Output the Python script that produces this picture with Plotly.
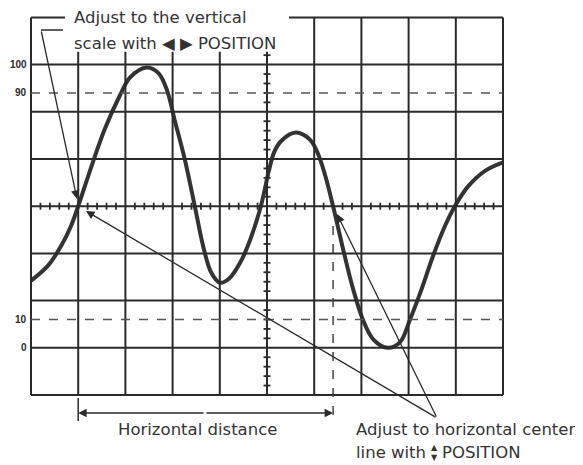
import plotly.graph_objects as go

# Waveform trace, x in graticule divisions, y in percent of the 0..100 scale
wave_x = [0.00, 0.36, 0.64, 0.85, 1.00, 1.31, 1.57, 1.88, 2.10, 2.45,
          2.70, 2.88, 3.05, 3.26, 3.47, 3.66, 3.82, 4.00, 4.20, 4.43, 4.64,
          4.87, 5.04, 5.15, 5.30, 5.61, 5.91, 6.08, 6.23, 6.40, 6.61,
          6.82, 7.03, 7.25, 7.56, 7.82, 8.03, 8.26, 8.52, 8.77, 8.98, 9.26,
          9.62, 10.0]
wave_y = [23.7, 29.0, 36.0, 43.1, 50.0, 65.5, 77.5, 89.0, 95.5, 99.0,
          97.0, 91.0, 80.0, 66.4, 50.0, 35.0, 26.5, 23.0, 24.5, 30.0, 38.0,
          50.0, 62.5, 69.0, 73.0, 76.0, 73.5, 68.5, 61.0, 50.0, 35.0,
          21.0, 10.0, 3.0, 0.0, 2.0, 10.0, 20.0, 32.5, 43.0, 50.0, 57.0,
          62.5, 65.5]

# Percent scale labels on the left
scale_labels = ["100", "90", "10", "0"]
scale_values = [100, 90, 10, 0]

DIV = 100 / 6           # percent per vertical division
PX = 47.2               # pixels per division
W, H = 583, 465
OFF = 8                 # page body margin
LEFT, BOTTOM = 31, 395  # page pixel position of the graticule corner


def pct(ydiv):
    return (ydiv - 1) * DIV


def px_x(p):
    return (p - LEFT) / PX


def px_y(p):
    return pct((BOTTOM - p) / PX)


INK = "#2a2a2a"
TOP_CUT = 7.27  # where the lines under the upper label stop
fig = go.Figure()

shapes = []
# vertical graticule lines
for i in range(11):
    top = TOP_CUT if 1 <= i <= 5 else 8
    shapes.append(dict(type="line", x0=i, x1=i, y0=pct(0), y1=pct(top),
                       line=dict(color=INK, width=2)))
# horizontal graticule lines
for j in range(8):
    shapes.append(dict(type="line", x0=0, x1=10, y0=pct(j), y1=pct(j),
                       line=dict(color=INK, width=2)))
# top border, broken by the upper label
shapes.append(dict(type="line", x0=0, x1=px_x(65), y0=pct(8), y1=pct(8),
                   line=dict(color=INK, width=2)))
shapes.append(dict(type="line", x0=px_x(289), x1=10, y0=pct(8), y1=pct(8),
                   line=dict(color=INK, width=2)))
# second leader line of upper label
shapes.append(dict(type="line", x0=px_x(41), x1=px_x(63), y0=px_y(30), y1=px_y(30),
                   line=dict(color=INK, width=1.5)))
# 10% and 90% dashed lines
for v in [10, 90]:
    shapes.append(dict(type="line", x0=0, x1=10, y0=v, y1=v,
                       line=dict(color="#555555", width=1.5, dash="dash")))
# dashed marker at second crossing
shapes.append(dict(type="line", x0=6.40, x1=6.40, y0=px_y(226), y1=px_y(424),
                   line=dict(color="#444444", width=1.5, dash="dash")))
# left end tick of horizontal distance
shapes.append(dict(type="line", x0=1, x1=1, y0=px_y(398), y1=px_y(421),
                   line=dict(color=INK, width=1.5)))

# minor ticks on the centre lines
tx = [k / 5 for k in range(1, 50) if k % 5]
ty = [pct(k / 5) for k in range(1, 37) if k % 5]
fig.add_trace(go.Scatter(x=tx, y=[50] * len(tx), mode="markers", hoverinfo="skip",
                         marker=dict(symbol="line-ns", size=5,
                                     line=dict(color=INK, width=1.8))))
fig.add_trace(go.Scatter(x=[5] * len(ty), y=ty, mode="markers", hoverinfo="skip",
                         marker=dict(symbol="line-ew", size=5,
                                     line=dict(color=INK, width=1.8))))

# the waveform
fig.add_trace(go.Scatter(x=wave_x, y=wave_y, mode="lines",
                         line=dict(color="#333333", width=4, shape="spline",
                                   smoothing=1.0)))

annotations = []
for lab, v in zip(scale_labels, scale_values):
    annotations.append(dict(x=px_x(29), y=v, text="<b>" + lab + "</b>",
                            showarrow=False, xanchor="right", yanchor="middle",
                            font=dict(size=10, color=INK,
                                      family="Liberation Sans Narrow, Arial")))

font = dict(size=16.5, color="#333333", family="DejaVu Sans")
annotations += [
    dict(x=px_x(72), y=px_y(17), text="Adjust to the vertical", showarrow=False,
         xanchor="left", yanchor="middle", font=font),
    dict(x=px_x(72), y=px_y(43), text="scale with ◀ ▶ POSITION", showarrow=False,
         xanchor="left", yanchor="middle", font=font),
    dict(x=px_x(197), y=px_y(429), text="Horizontal distance", showarrow=False,
         xanchor="center", yanchor="middle", font=font),
    dict(x=px_x(354), y=px_y(429), text="Adjust to horizontal center", showarrow=False,
         xanchor="left", yanchor="middle", font=font),
    dict(x=px_x(354), y=px_y(452), text="line with", showarrow=False,
         xanchor="left", yanchor="middle", font=font),
    dict(x=px_x(429), y=px_y(452), text="▲<br>▼", showarrow=False,
         xanchor="left", yanchor="middle",
         font=dict(size=8, color="#333333", family="DejaVu Sans")),
    dict(x=px_x(440), y=px_y(452), text="POSITION", showarrow=False,
         xanchor="left", yanchor="middle", font=font),
]

arrow = dict(text="", showarrow=True, axref="x", ayref="y", xref="x", yref="y",
             arrowhead=2, arrowsize=1.3, arrowwidth=1.3, arrowcolor=INK)
# leader arrows: (tail px, tip px)
leaders = [((41, 30), (77, 199)), ((437, 418), (86, 211)), ((437, 418), (337, 214))]
for (tx0, ty0), (tx1, ty1) in leaders:
    annotations.append(dict(arrow, ax=px_x(tx0), ay=px_y(ty0),
                            x=px_x(tx1), y=px_y(ty1)))
# horizontal distance double arrow
annotations.append(dict(arrow, ax=px_x(205), ay=px_y(413), x=1, y=px_y(413)))
annotations.append(dict(arrow, ax=px_x(205), ay=px_y(413), x=6.40, y=px_y(413)))

fig.update_layout(
    width=W - OFF, height=H - OFF, autosize=False,
    margin=dict(l=0, r=0, t=0, b=0),
    paper_bgcolor="white", plot_bgcolor="white",
    showlegend=False,
    shapes=shapes,
    annotations=annotations,
    xaxis=dict(range=[px_x(OFF), px_x(W)], visible=False, fixedrange=True),
    yaxis=dict(range=[px_y(H), px_y(OFF)], visible=False, fixedrange=True),
)

fig.write_html("out.html")
